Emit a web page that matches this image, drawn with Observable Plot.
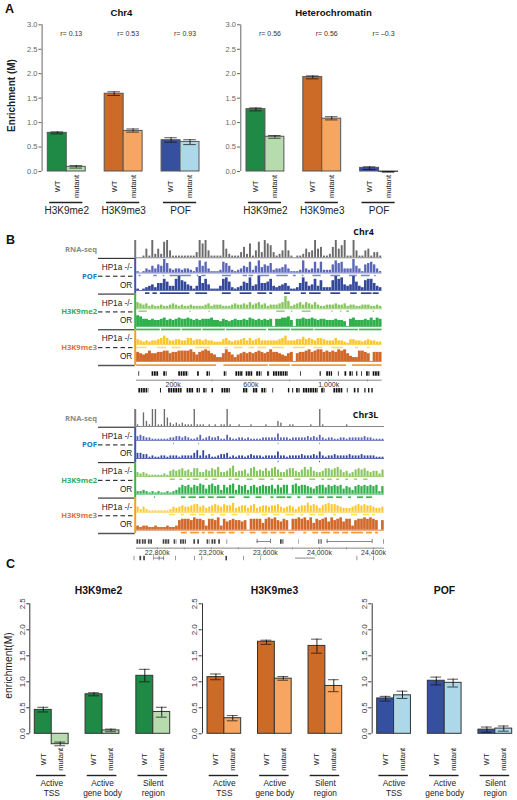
<!DOCTYPE html>
<html><head><meta charset="utf-8">
<script src="https://cdn.jsdelivr.net/npm/d3@7"></script>
<script src="https://cdn.jsdelivr.net/npm/@observablehq/plot@0.6"></script>
<style>
html,body{margin:0;padding:0;background:#fff}
#page{position:relative;width:517px;height:800px;overflow:hidden}
#page svg{position:absolute;overflow:visible;max-width:none}
</style></head><body><div id="page"></div>
<script>
// ---------- Panel A / C data ----------
const conditions = ["WT","mutant"];
const slotsPerChart = [0,1,3,4,6,7];
const groupStarts = [0,3,6];
const greens = ["#1f8a46","#b6dcae"], oranges = ["#cc6a27","#f6a660"], blues = ["#35509f","#add8ea"];
const groupNamesA = ["H3K9me2","H3K9me3","POF"];
const rLabelsChr4 = ["r= 0.13","r= 0.53","r= 0.93"];
const rLabelsHet = ["r= 0.56","r= 0.56","r= –0.3"];
const chr4Mean = [0.79,0.095,1.59,0.83,0.64,0.605];
const chr4Low  = [0.77,0.07,1.555,0.805,0.60,0.55];
const chr4High = [0.81,0.12,1.63,0.87,0.69,0.65];
const hetMean = [1.275,0.71,1.93,1.08,0.075,-0.01];
const hetLow  = [1.24,0.68,1.895,1.055,0.04,-0.015];
const hetHigh = [1.30,0.735,1.955,1.12,0.095,0.0];
const groupNamesC = ["Active\nTSS","Active\ngene body","Silent\nregion"];
const me2Mean = [0.46,-0.2,0.76,0.065,1.115,0.42];
const me2Low  = [0.42,-0.23,0.73,0.04,1.0,0.32];
const me2High = [0.51,-0.16,0.79,0.09,1.24,0.51];
const me3Mean = [1.09,0.30,1.77,1.06,1.69,0.92];
const me3Low  = [1.04,0.25,1.72,1.03,1.55,0.81];
const me3High = [1.15,0.35,1.80,1.10,1.82,1.04];
const pofMean = [0.68,0.74,1.02,0.98,0.08,0.10];
const pofLow  = [0.63,0.68,0.94,0.90,0.03,0.05];
const pofHigh = [0.72,0.82,1.09,1.05,0.13,0.15];
const ticksA = [0,0.5,1,1.5,2,2.5,3];
const ticksC = [0,0.5,1,1.5,2,2.5];

// ---------- Panel B data (track heights on a 0-10 scale, one value per bin) ----------
const chr4Rna = [0,0,1,5,1,10,2,5,2,9,10,4,1,1,1,1,1,1,1,1,3,10,8,10,4,1,1,1,1,10,5,2,1,1,1,3,6,2,8,1,4,9,3,10,8,7,3,1,2,4,10,4,1,0,1,1,2,5,3,4,10,5,6,1,1,2,6,10,5,7,10,1,1,10,4,1,1,4,5,1,3,3,1];
const chr4PofMut = [1,0,1,3,2,5,3,6,5,10,7,3,2,3,3,2,3,3,2,1,4,9,5,8,3,1,1,1,2,8,7,5,2,1,2,3,5,4,8,2,5,9,4,6,5,7,2,3,3,4,6,3,1,1,1,2,9,3,2,3,8,3,8,2,2,2,6,9,7,8,3,3,3,10,5,3,1,6,7,8,6,3,1];
const chr4PofOr = [1,0,1,2,3,4,2,5,5,8,6,3,3,8,10,7,6,4,3,1,3,10,5,8,4,1,1,1,3,8,9,6,2,1,2,3,6,5,9,3,4,10,5,5,6,8,3,2,3,4,5,3,1,1,2,5,9,6,3,4,8,3,7,2,2,2,7,10,8,9,4,3,4,10,6,3,2,7,8,8,5,3,2];
const chr4Me2Mut = [5,4,3,4,2,3,2,2,3,2,2,3,4,3,2,3,2,2,3,2,2,2,2,3,4,2,3,3,3,2,2,2,3,4,3,3,4,3,5,3,4,5,3,4,2,3,3,3,4,5,10,6,2,3,4,5,3,5,4,3,5,3,2,2,3,3,3,4,3,3,4,2,3,3,2,2,3,3,3,2,2,3,2];
const chr4Me2Or = [9,8,6,6,5,6,5,5,6,7,5,6,5,6,7,6,6,7,6,5,6,5,6,6,6,7,5,5,4,6,5,4,5,6,5,5,6,5,7,6,5,6,5,6,5,6,0,6,6,7,7,8,5,0,6,6,7,6,6,7,6,5,6,6,5,5,5,6,5,5,4,0,6,7,5,5,5,6,5,7,5,7,6];
const chr4Me3Mut = [4,3,2,3,2,3,3,4,5,7,5,3,3,4,4,3,3,5,5,3,4,4,3,4,3,3,2,2,2,4,5,3,2,3,3,4,5,3,5,3,4,5,3,3,3,3,3,3,4,5,7,3,3,3,4,4,6,4,5,4,3,5,5,4,3,3,3,5,3,3,2,1,4,4,3,3,2,3,4,3,3,2,2];
const chr4Me3Or = [7,6,5,6,8,6,6,7,7,8,8,6,7,7,8,8,8,8,9,7,5,7,8,9,8,6,5,3,3,6,9,7,5,3,5,6,7,6,7,6,7,8,7,6,7,9,7,7,6,5,4,6,7,0,6,7,7,8,9,7,8,9,9,7,8,7,8,7,9,8,9,6,4,3,3,8,8,7,6,0,7,7,7];
const chr4PeaksPofMut = [[0.8,1.5],[5.8,7],[9,9.5],[11.3,18.5],[20.5,21],[22,23.5],[29,32],[36,37.5],[38,39.5],[41,45],[47.4,51.3],[53,54],[56,56.6],[59.6,62.4],[65.7,69],[72,74.6],[76,79],[80.5,81]];
const chr4PeaksPofOr = [[3,4.5],[5.5,7],[8,18],[20,24],[29,32],[35,39],[41,44],[45,46],[50,52],[55.7,57.4],[58.5,62.4],[65.7,69],[72.4,74.6],[76,79.6],[80,82]];
const chr4PeaksMe2Mut = [[0.8,3.6],[18,18.4],[24.5,24.9],[47.4,50.2],[52.4,52.8],[56,59],[66,66.4],[69,69.4],[71,72],[80,80.4]];
const chr4PeaksMe2Or = [[0,8],[8.4,15],[15.4,22],[22.4,30],[30.4,44],[44.6,52],[52.4,60],[60.3,75],[75.4,83]];
const chr4PeaksMe3Mut = [[0,3.5],[7,10],[12,15],[20,25],[30,31],[33,36],[38,40],[41,44],[46,50],[53,57],[60,63],[66,70],[74,75],[78,79]];
const chr4PeaksMe3Or = [[0,27],[29.5,44.5],[45,52],[52.5,71],[73,83]];
const chr4GenesTop = [[24,28],[92,126],[152,169],[229,280],[326,335],[374,391],[463,477],[523,562],[576,613],[630,657],[686,699],[716,793],[856,860],[956,962],[990,1020],[1050,1054],[1084,1096],[1109,1126],[1144,1150],[1169,1173],[1195,1212],[1229,1267]];
const chr4GenesBottom = [[24,75],[135,140],[177,246],[272,306],[323,340],[357,374],[400,408],[451,494],[562,588],[613,639],[656,682],[713,717],[793,800],[815,820],[835,853],[870,947],[964,981],[1027,1075],[1096,1100],[1132,1140],[1150,1157],[1186,1192],[1205,1212],[1222,1229]];
const chr4Ticks = [200,400,600,800,1000,1200];
const chr4TickLabels = {200:"200k",600:"600k",1000:"1,000k"};

const chr3Rna = [1,0,8,3,1,10,10,1,1,10,5,2,1,2,1,2,1,1,1,10,1,1,1,0,1,0,1,0,1,1,10,1,0,0,1,0,0,0,1,0,0,0,0,1,0,0,0,3,2,0,0,1,1,0,0,0,0,0,1,0,0,10,1,0,0,0,0,0,0,0,1,0,0,0,0,0,0,0,0,0,0,0,0];
const chr3PofMut = [3,4,3,2,2,1,1,1,1,1,1,2,2,3,3,2,3,2,1,1,2,4,1,2,3,2,2,3,1,1,4,2,1,1,2,2,1,2,1,1,1,1,2,2,2,2,2,5,2,2,2,1,2,2,2,2,2,3,2,3,2,4,2,1,2,2,1,1,2,2,1,2,2,2,2,2,3,2,2,1,1,1,1];
const chr3PofOr = [4,4,3,3,1,2,1,1,2,2,1,2,2,2,1,2,2,2,2,4,6,2,6,2,3,1,1,2,3,3,4,1,2,1,2,2,1,2,3,2,2,2,1,2,2,2,2,5,2,2,1,2,2,2,2,3,2,2,2,3,2,5,2,1,2,2,3,2,2,2,2,3,2,2,2,3,2,2,2,2,1,1,1];
const chr3Me2Mut = [3,2,3,2,1,1,1,1,1,2,1,4,5,4,5,6,4,5,3,6,6,3,3,5,4,6,5,7,3,3,4,6,8,3,4,4,5,2,6,7,4,5,4,6,4,6,7,5,3,3,5,6,6,4,3,5,7,5,7,4,3,3,4,6,6,5,6,7,5,3,4,2,3,5,6,5,6,4,3,4,4,2,5];
const chr3Me2Or = [2,2,3,2,1,2,1,2,1,1,2,1,2,3,5,7,6,7,5,7,6,8,7,4,7,8,6,7,3,7,5,7,8,3,7,6,7,3,6,7,5,6,7,6,6,7,4,7,5,7,7,0,7,8,6,7,7,6,5,4,6,7,7,5,7,6,7,6,7,4,6,5,3,6,7,6,7,6,7,6,7,2,6];
const chr3Me3Mut = [4,2,4,2,1,1,1,1,1,1,1,2,4,3,4,5,4,4,5,6,6,4,5,3,4,5,6,5,4,6,5,5,7,3,4,5,5,3,5,6,3,4,5,5,4,5,5,6,4,3,4,5,4,2,4,5,5,7,5,6,5,3,5,6,7,6,6,5,4,3,3,3,4,5,6,5,6,5,5,4,3,3,4];
const chr3Me3Or = [3,2,3,3,2,2,3,2,2,2,3,2,2,3,7,8,8,8,7,9,8,8,7,3,8,8,7,9,3,8,6,7,8,7,7,6,7,0,8,8,8,8,5,8,9,8,9,7,6,8,7,0,8,8,9,8,9,7,9,5,8,7,8,9,6,9,7,8,9,6,8,8,3,7,8,8,9,8,9,8,7,0,7];
const chr3PeaksPofMut = [[12.4,12.7],[20.8,21.1],[47.4,47.7],[61.3,61.6]];
const chr3PeaksPofOr = [[47.4,47.7],[61.3,61.6]];
const chr3PeaksMe2Mut = [[11.3,13],[14.5,15.5],[17,18],[19,21],[23,24],[25.5,27],[31,32],[33,34.5],[37,39],[41,43],[45,46],[47.5,49],[53,55],[58,60],[62,63],[64,65.5],[67,68],[70,71],[73,74],[76,77.5]];
const chr3PeaksMe2Or = [[6,6.3],[15,16.5],[17.5,20],[21,23],[24,26],[27,30],[31,33],[36,38],[40,42],[45,46],[47,50],[50.5,52],[54,55],[57,59],[61,63],[64,66],[67,69],[71,72],[74,76],[77,79]];
const chr3PeaksMe3Mut = [[11,13],[15,16],[18,20],[21,23],[25,26],[28,30],[32,34],[37,38],[42,44],[46,48],[50,53],[55,56],[58,60],[61,63],[66,67],[72,74],[76,78],[79,80]];
const chr3PeaksMe3Or = [[15,17],[18,21],[22,23],[24,26],[27,30],[31,33],[35,36],[38,40],[42,44],[45,47],[48,50],[51,53],[56,57],[59,61],[62,65],[66,68],[69,71],[72,76],[77,79],[80,81]];
const chr3GenesTop = [[22650,22680],[22690,22720],[22735,22770],[22844,22898],[22925,22945],[22972,23016],[23071,23085],[23100,23115],[23169,23190],[23205,23240],[23255,23268],[23317,23321],[23712,23737],[23847,23850],[23995,24003],[24012,24020],[24476,24480]];
const chr3GenesBottom = [[22630,22634],[22672,22690],[22700,22718],[22775,22778],[22815,22820],[22850,22854],[22936,22940],[23076,23080],[23132,23136],[23308,23320],[23440,23444],[23564,23567],[24279,24283],[24402,24406]];
const chr3GeneLinesTop = [[23539,23638],[24057,24390]];
const chr3GeneLinesBottom = [[22775,22855],[23823,23970]];
const chr3Ticks = [22800,23000,23200,23400,23600,23800,24000,24200,24400];
const chr3TickLabels = {22800:"22,800k",23200:"23,200k",23600:"23,600k",24000:"24,000k",24400:"24,400k"};

const trackColors = ["#6b6b6b","#5a66b8","#33479b","#86c55f","#2fb04a","#fcc62f","#d2682a"];
const peakColors  = [null,"#5a66b8","#2c4196","#7cc05c","#3fb456","#fde14f","#f49a3b"];
const chr4Gaps = [0.35,0.2,0.1,0.2,0,0.15,0];
const chr3Gaps = [0.55,0.4,0.4,0.3,0.25,0.3,0.1];
const strip = [{y1:0,y2:1,c:"#777"},{y1:1,y2:3,c:"#4455a8"},{y1:3,y2:5,c:"#44b04c"},{y1:5,y2:7,c:"#f0a030"}];
const rowLabels = ["HP1a -/-","OR","HP1a -/-","OR","HP1a -/-","OR"];
const rowIndex = [1.5,2.5,3.5,4.5,5.5,6.5];
const sideLabels = [{t:"RNA-seq",r:0.5,c:"#8a8a8a"},{t:"POF",r:2,c:"#1b75bb"},{t:"H3K9me2",r:4,c:"#2fae62"},{t:"H3K9me3",r:6,c:"#e0703a"}];

// ---------- helpers ----------
const page = document.getElementById("page");
const SANS = "'Liberation Sans',Arial,sans-serif";
function place(svg,left,top){svg.style.left=left+"px";svg.style.top=top+"px";page.appendChild(svg);}
const base = (w,h)=>({width:w,height:h,marginTop:0,marginRight:0,marginBottom:0,marginLeft:0,style:{background:"transparent",fontFamily:SANS,overflow:"visible"}});

function label(text,cx,cy,o={}){
  const w=o.w??120,h=o.h??20;
  place(Plot.plot({...base(w,h),x:{axis:null},y:{axis:null},marks:[
    Plot.text([text],{frameAnchor:"middle",fontSize:o.size??10,fontWeight:o.weight??"normal",fill:o.fill??"#111",rotate:o.rotate??0,fontFamily:o.family??SANS})
  ]}),cx-w/2,cy-h/2);
}

function barChart(c){
  const rows = slotsPerChart.map((s,i)=>({start:s,end:s+1,center:s+0.5,value:c.mean[i],lo:c.low[i],hi:c.high[i],fill:c.fills[Math.floor(i/2)][i%2],cond:conditions[i%2]}));
  const groups = groupStarts.map((s,i)=>({start:s,name:c.groups[i],r:c.r?c.r[i]:null}));
  const caps = rows.flatMap(d=>[{c:d.center,y:d.lo},{c:d.center,y:d.hi}]);
  const marks = [
    Plot.axisY({ticks:c.ticks,tickFormat:d=>d.toFixed(1),anchor:"left",tickSize:3,tickPadding:c.tickPadding,label:null,fontSize:c.tickFont,tickRotate:c.tickRotate,color:c.axisColor}),
    Plot.ruleX([0],{y1:()=>0,y2:()=>c.yMax,dx:c.axisDx,stroke:c.axisColor,strokeWidth:1}),
    Plot.rect(rows,{x1:"start",x2:"end",y1:()=>0,y2:"value",fill:"fill",stroke:c.barStroke,strokeWidth:1}),
    Plot.ruleX(rows,{x:"center",y1:"lo",y2:"hi",stroke:"#111",strokeWidth:0.9}),
    Plot.ruleY(caps,{y:"y",x1:d=>d.c-c.cap,x2:d=>d.c+c.cap,stroke:"#111",strokeWidth:0.9,strokeOpacity:0.8}),
    Plot.text(rows,{x:"center",y:()=>0,text:"cond",rotate:-90,dy:c.condDy,fontSize:c.condFont,fill:"#222"}),
    Plot.ruleY(groups,{y:()=>0,x1:d=>d.start+0.1,x2:d=>d.start+1.85,dy:c.lineDy,stroke:"#222",strokeWidth:1.4}),
    Plot.text(groups,{x:d=>d.start+1,y:()=>0,text:"name",dy:c.nameDy,fontSize:c.nameFont,lineAnchor:"top",lineHeight:c.nameLine,fill:"#222"})
  ];
  if(c.r) marks.push(Plot.text(groups,{x:d=>d.start+1,y:()=>c.rY,text:"r",dx:4.5,fontSize:7,fill:"#333"}));
  place(Plot.plot({...base(c.w,c.h),marginLeft:c.axisX-c.left,
    x:{axis:null,type:"linear",domain:[0,8],range:[c.x0-c.left,c.x8-c.left]},
    y:{axis:null,type:"linear",domain:[0,c.yMax],range:[c.y0-c.top,c.yT-c.top]},
    color:{type:"identity"},marks}),c.left,c.top);
}

function track(values,peaks,i,t,tickDy,gap){
  const w=t.x1-t.x0,h=t.bottom-t.top;
  const marks=[
    Plot.rect(values,{x1:(d,k)=>k+gap/2,x2:(d,k)=>k+1-gap/2,y1:()=>0,y2:d=>d,fill:trackColors[i]}),
    Plot.ruleY([0],{stroke:trackColors[i],strokeWidth:0.8})
  ];
  if(peaks) marks.push(Plot.ruleY(peaks,{y:()=>0,x1:d=>d[0],x2:d=>d[1],dy:tickDy,stroke:peakColors[i],strokeWidth:i%2===0&&i>0?1.7:1.5,strokeOpacity:i===1||i===3?0.8:1}));
  place(Plot.plot({...base(w,h),x:{axis:null,type:"linear",domain:[0,values.length],range:[0,w]},y:{axis:null,type:"linear",domain:[0,10],range:[h,0]},marks}),t.x0,t.top);
}

function sidePanel(top,bottom){
  const left=60,w=75,h=bottom-top;
  place(Plot.plot({...base(w,h),
    x:{axis:null,type:"linear",domain:[0,1],range:[98-left,134.7-left]},
    y:{axis:null,type:"linear",domain:[0,7],range:[0,h]},
    color:{type:"identity"},
    marks:[
      Plot.ruleY([1,3,5],{x1:()=>0,x2:()=>1,stroke:"#111",strokeWidth:1}),
      Plot.ruleY([7],{x1:()=>0,x2:()=>1,stroke:"#555",strokeWidth:1.4}),
      Plot.ruleY([2,4,6],{x1:()=>0,x2:()=>1,stroke:"#111",strokeWidth:1,strokeDasharray:"4.5,3"}),
      Plot.ruleX(strip,{x:()=>1,y1:"y1",y2:"y2",stroke:"c",strokeWidth:2}),
      Plot.text(rowIndex,{x:()=>1,y:d=>d,text:(d,i)=>rowLabels[i],textAnchor:"end",dx:-3,fontSize:8.2,fill:"#222"}),
      Plot.text(sideLabels,{x:()=>0,y:"r",text:"t",textAnchor:"end",dx:-1.5,fontSize:7.6,fontWeight:"bold",fill:"c",fontFamily:"'Open Sans',sans-serif"})
    ]}),left,top);
}

function genes(g){
  const w=g.x1-g.x0,top=g.rowTop-6,h=g.rowBottom-g.rowTop+12;
  const y0=6,y1=h-6;
  const axisRow=g.axisRow;
  const marks=[
    Plot.ruleY(g.top,{y:()=>0,x1:d=>d[0],x2:d=>d[1],stroke:g.ink,strokeWidth:4.5,strokeDasharray:"1.7,0.7"}),
    Plot.ruleY(g.bottom,{y:()=>1,x1:d=>d[0],x2:d=>d[1],stroke:g.ink,strokeWidth:4.5,strokeDasharray:"1.7,0.7"}),
    Plot.ruleY([axisRow],{stroke:"#777",strokeWidth:0.9}),
    Plot.ruleX(g.ticks,{x:d=>d,y1:()=>axisRow,y2:()=>axisRow+0.1,stroke:"#777",strokeWidth:0.8}),
    Plot.text(Object.keys(g.labels).map(Number),{x:d=>d,y:()=>axisRow,text:d=>g.labels[d],dy:g.labelDy,fontSize:7,fill:"#333"})
  ];
  if(g.linesTop) marks.unshift(Plot.ruleY(g.linesTop,{y:()=>0,x1:d=>d[0],x2:d=>d[1],stroke:"#555",strokeWidth:0.7}),Plot.ruleX(g.linesTop.flat(),{x:d=>d,y1:()=>-0.13,y2:()=>0.13,stroke:"#444",strokeWidth:0.7}));
  if(g.linesBottom) marks.unshift(Plot.ruleY(g.linesBottom,{y:()=>1,x1:d=>d[0],x2:d=>d[1],stroke:"#555",strokeWidth:0.7}));
  place(Plot.plot({...base(w,h),x:{axis:null,type:"linear",domain:g.domain,range:[0,w]},y:{axis:null,type:"linear",domain:[0,1],range:[y0,y1]},marks}),g.x0,top);
}

// ---------- Panel A ----------
const configA = {top:0,w:235,h:225,y0:171,yT:24.3,yMax:3,ticks:ticksA,tickFont:7.5,tickPadding:1.5,axisColor:"#666",barStroke:"#555",cap:0.33,condDy:15,condFont:7.5,lineDy:31,nameDy:33.5,nameFont:10,nameLine:1.2,rY:2.81,groups:groupNamesA,fills:[greens,oranges,blues],axisDx:-5.7,tickRotate:0};
barChart({...configA,left:0,axisX:41.5,x0:47.3,x8:199,mean:chr4Mean,low:chr4Low,high:chr4High,r:rLabelsChr4});
barChart({...configA,left:235,w:282,axisX:240,x0:246,x8:397.5,mean:hetMean,low:hetLow,high:hetHigh,r:rLabelsHet});
label("Enrichment (M)",11,95,{rotate:-90,weight:"bold",size:10,w:20,h:90,fill:"#222"});
label("Chr4",120.7,12,{weight:"bold",size:9.6,w:60,h:16});
label("Heterochromatin",333,12,{weight:"bold",size:9.6,w:110,h:16});
label("A",9,8,{weight:"bold",size:12.5,w:16,h:16});
label("B",9.5,239,{weight:"bold",size:12.5,w:16,h:16});
label("C",9.5,563,{weight:"bold",size:12.5,w:16,h:16});

// ---------- Panel B : Chr4 ----------
sidePanel(240,365);
const bx0=136,chr4x1=381.7,chr3x1=384;
const chr4Layout=[[240,257.3],[258.5,272],[276,290],[296,308.3],[314,326],[332,344],[348,361]];
const chr4Vals=[chr4Rna,chr4PofMut,chr4PofOr,chr4Me2Mut,chr4Me2Or,chr4Me3Mut,chr4Me3Or];
const chr4Pks=[null,chr4PeaksPofMut,chr4PeaksPofOr,chr4PeaksMe2Mut,chr4PeaksMe2Or,chr4PeaksMe3Mut,chr4PeaksMe3Or];
chr4Vals.forEach((v,i)=>track(v,chr4Pks[i],i,{x0:bx0,x1:chr4x1,top:chr4Layout[i][0],bottom:chr4Layout[i][1]},[0,2.5,2.7,2.4,3,3,3.6][i],chr4Gaps[i]));
genes({x0:bx0,x1:chr4x1,rowTop:373.3,rowBottom:390,domain:[12,1275],top:chr4GenesTop,bottom:chr4GenesBottom,ticks:chr4Ticks,labels:chr4TickLabels,axisRow:0.4,labelDy:4.5,ink:"#111"});
label("Chr4",363,231.5,{weight:"bold",size:8.8,w:40,h:12,family:"'Open Sans',sans-serif"});

// ---------- Panel B : Chr3L ----------
sidePanel(409,533);
const chr3Layout=[[409,426],[427,440],[445,458],[463,476],[481,493.7],[499,511.7],[516,529.7]];
const chr3Vals=[chr3Rna,chr3PofMut,chr3PofOr,chr3Me2Mut,chr3Me2Or,chr3Me3Mut,chr3Me3Or];
const chr3Pks=[null,chr3PeaksPofMut,chr3PeaksPofOr,chr3PeaksMe2Mut,chr3PeaksMe2Or,chr3PeaksMe3Mut,chr3PeaksMe3Or];
chr3Vals.forEach((v,i)=>track(v,chr3Pks[i],i,{x0:bx0,x1:chr3x1,top:chr3Layout[i][0],bottom:chr3Layout[i][1]},[0,3,3,2.7,3,2.4,2.4][i],chr3Gaps[i]));
genes({x0:bx0,x1:chr3x1,rowTop:540.7,rowBottom:557.3,domain:[22647,24481],top:chr3GenesTop,bottom:chr3GenesBottom,linesTop:chr3GeneLinesTop,linesBottom:chr3GeneLinesBottom,ticks:chr3Ticks,labels:chr3TickLabels,axisRow:0.4,labelDy:4.5,ink:"#444"});
label("Chr3L",365,415,{weight:"bold",size:8.8,w:40,h:12,family:"'Open Sans',sans-serif"});

// ---------- Panel C ----------
const configC = {top:596,h:204,y0:733.3,yT:603.3,yMax:2.5,ticks:ticksC,tickFont:8,tickPadding:2,axisColor:"#333",barStroke:"#333",cap:0.32,condDy:25.5,condFont:7.5,lineDy:41.7,nameDy:45,nameFont:8.3,nameLine:1.2,rY:null,groups:groupNamesC,axisDx:-5,tickRotate:-90};
barChart({...configC,left:0,w:190,axisX:29.3,x0:34.3,x8:169.7,mean:me2Mean,low:me2Low,high:me2High,fills:[greens,greens,greens]});
barChart({...configC,left:190,w:170,axisX:201.7,x0:207,x8:341.7,mean:me3Mean,low:me3Low,high:me3High,fills:[oranges,oranges,oranges]});
barChart({...configC,left:360,w:157,axisX:371.3,x0:376.7,x8:511.7,mean:pofMean,low:pofLow,high:pofHigh,fills:[blues,blues,blues]});
label("enrichment(M)",7.5,665,{rotate:-90,size:10.3,w:14,h:80,fill:"#222"});
label("H3K9me2",97.7,590,{weight:"bold",size:10.4,w:80,h:16});
label("H3K9me3",274,590,{weight:"bold",size:10.4,w:80,h:16});
label("POF",444,590,{weight:"bold",size:10.4,w:60,h:16});
</script></body></html>
